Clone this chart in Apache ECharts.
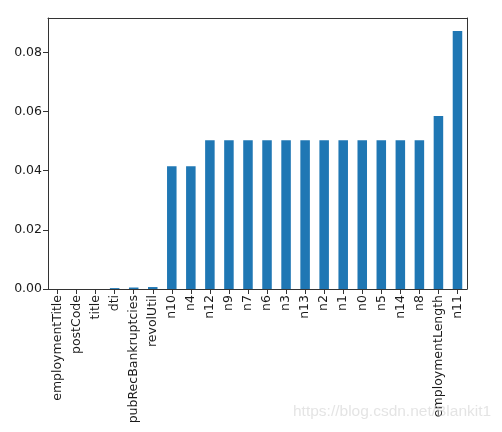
<!DOCTYPE html>
<html>
<head>
<meta charset="utf-8">
<script src="https://cdn.jsdelivr.net/npm/echarts@6/dist/echarts.min.js"></script>
<style>html,body{margin:0;padding:0;background:#fff;}#c{width:502px;height:432px;}</style>
</head>
<body>
<div id="c"></div>
<script>
const categories = ['employmentTitle','postCode','title','dti','pubRecBankruptcies','revolUtil','n10','n4','n12','n9','n7','n6','n3','n13','n2','n1','n0','n5','n14','n8','employmentLength','n11'];
const missingRatio = [0.0000013,0.0000013,0.0000013,0.0003,0.0005,0.00066,0.0415,0.0415,0.0503,0.0503,0.0503,0.0503,0.0503,0.0503,0.0503,0.0503,0.0503,0.0503,0.0503,0.0503,0.0585,0.0872];
const yTicks = [0, 0.02, 0.04, 0.06, 0.08];

const chart = echarts.init(document.getElementById('c'), null, {renderer:'canvas'});
const font = 'DejaVu Sans';
const lineSt = {show: true, onZero: false, lineStyle: {color: '#333', width: 1}};
chart.setOption({
  animation: false,
  backgroundColor: '#fff',
  grid: {left: 48, top: 18, right: 35, bottom: 143},
  xAxis: [{
    type: 'category',
    data: categories,
    boundaryGap: true,
    axisLine: lineSt,
    axisTick: {show: true, alignWithLabel: true, length: 5, lineStyle: {color: '#333'}},
    axisLabel: {rotate: 90, interval: 0, color: '#1a1a1a', fontFamily: font, fontSize: 12.5, margin: 6}
  }, {
    type: 'category',
    data: categories,
    position: 'top',
    axisLine: lineSt,
    axisTick: {show: false},
    axisLabel: {show: false}
  }],
  yAxis: [{
    type: 'value',
    min: 0,
    max: 0.0916,
    splitLine: {show: false},
    axisLine: lineSt,
    axisTick: {show: true, length: 5, customValues: yTicks, lineStyle: {color: '#333'}},
    axisLabel: {color: '#1a1a1a', fontFamily: font, fontSize: 12.5, margin: 6,
      customValues: yTicks, formatter: v => v.toFixed(2)}
  }, {
    type: 'value',
    min: 0,
    max: 0.0916,
    position: 'right',
    splitLine: {show: false},
    axisLine: lineSt,
    axisTick: {show: false},
    axisLabel: {show: false}
  }],
  series: [{
    type: 'bar',
    data: missingRatio,
    barWidth: '50%',
    itemStyle: {color: '#1f77b4'}
  }],
  graphic: [{
    type: 'text',
    left: 293,
    top: 404,
    z: 100,
    style: {text: 'https://blog.csdn.net/Blankit1', fill: 'rgba(205,205,205,0.55)', font: '15.5px "Liberation Sans", Arial, sans-serif'}
  }]
});
</script>
</body>
</html>
